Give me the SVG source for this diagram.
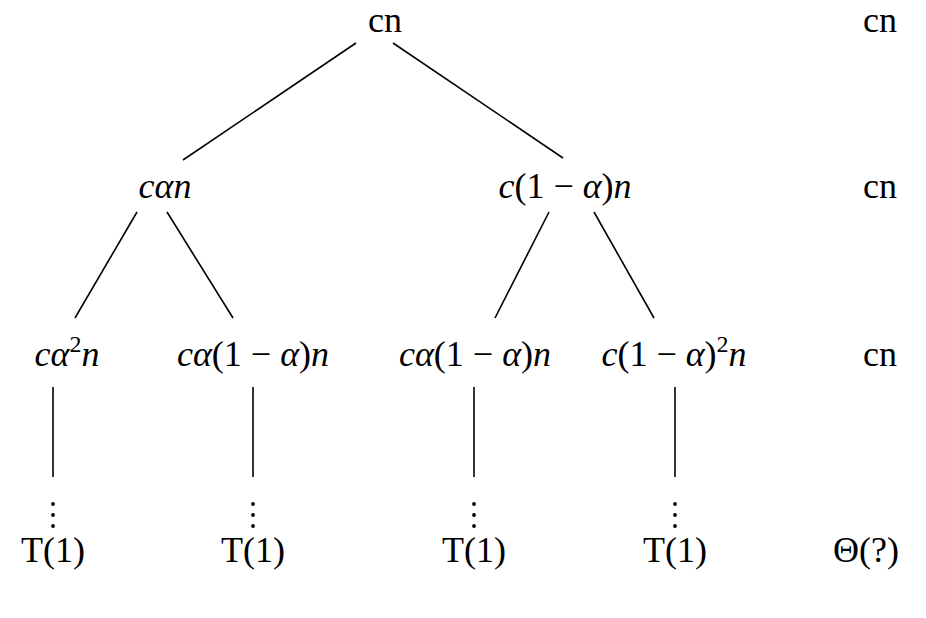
<svg xmlns="http://www.w3.org/2000/svg" width="926" height="618" viewBox="0 0 926 618">
<style>
text{font-family:"Liberation Serif","DejaVu Serif",serif;font-size:36px;fill:#000;text-anchor:middle}
.m{font-style:italic}
.u{font-style:normal}
line{stroke:#000;stroke-width:1.6}
circle{fill:#000}
</style>
<rect width="926" height="618" fill="#fff"/>
<g id="connectors">
<line x1="356" y1="43" x2="183" y2="160"/>
<line x1="393" y1="43" x2="563" y2="158"/>
<line x1="137" y1="212" x2="75" y2="318"/>
<line x1="167" y1="212" x2="233" y2="318"/>
<line x1="549" y1="212" x2="495" y2="318"/>
<line x1="594" y1="212" x2="654" y2="318"/>
<line x1="53" y1="387" x2="53" y2="477"/>
<line x1="253" y1="387" x2="253" y2="477"/>
<line x1="474" y1="387" x2="474" y2="477"/>
<line x1="675" y1="387" x2="675" y2="477"/>
</g>
<g id="root"><text x="385" y="32">cn</text></g>
<g id="l1a"><text x="165" y="198" class="m">cαn</text></g>
<g id="l1b"><text x="565" y="198" class="m">c<tspan class="u">(1 − </tspan>α<tspan class="u">)</tspan>n</text></g>
<g id="l2a"><text x="67" y="366" class="m">cα<tspan class="u" font-size="24" dy="-14">2</tspan><tspan dy="14">n</tspan></text></g>
<g id="l2b"><text x="253" y="366" class="m">cα<tspan class="u">(1 − </tspan>α<tspan class="u">)</tspan>n</text></g>
<g id="l2c"><text x="475" y="366" class="m">cα<tspan class="u">(1 − </tspan>α<tspan class="u">)</tspan>n</text></g>
<g id="l2d"><text x="674" y="366" class="m">c<tspan class="u">(1 − </tspan>α<tspan class="u">)</tspan><tspan class="u" font-size="24" dy="-14">2</tspan><tspan dy="14">n</tspan></text></g>
<g id="dots">
<circle cx="53" cy="504" r="1.9"/><circle cx="53" cy="515" r="1.9"/><circle cx="53" cy="526" r="1.9"/>
<circle cx="253" cy="504" r="1.9"/><circle cx="253" cy="515" r="1.9"/><circle cx="253" cy="526" r="1.9"/>
<circle cx="474" cy="504" r="1.9"/><circle cx="474" cy="515" r="1.9"/><circle cx="474" cy="526" r="1.9"/>
<circle cx="675" cy="504" r="1.9"/><circle cx="675" cy="515" r="1.9"/><circle cx="675" cy="526" r="1.9"/>
</g>
<g id="leaves">
<text x="53" y="562">T(1)</text>
<text x="253" y="562">T(1)</text>
<text x="474" y="562">T(1)</text>
<text x="675" y="562">T(1)</text>
</g>
<g id="costs">
<text x="880" y="32">cn</text>
<text x="880" y="198">cn</text>
<text x="880" y="366">cn</text>
<text x="866" y="562">Θ(?)</text>
</g>
</svg>
